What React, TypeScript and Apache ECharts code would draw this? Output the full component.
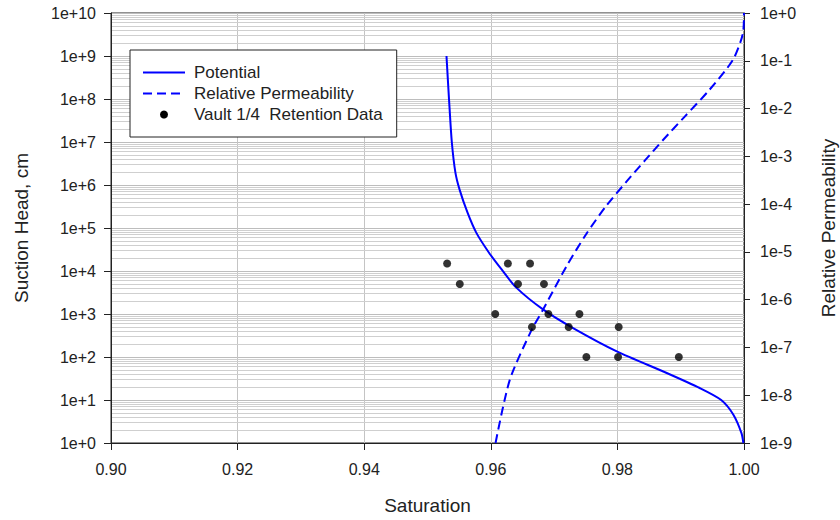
import React, { useEffect, useRef } from "react";
import * as echarts from "echarts";

// Water retention (potential) curve: saturation vs suction head (cm)
const potentialSat = [
  0.953, 0.9534, 0.95384, 0.95441, 0.95507, 0.95631, 0.9577, 0.95969, 0.96174,
  0.96403, 0.9683, 0.973, 0.9799, 0.9877, 0.993, 0.9964, 0.9983, 0.9996, 0.9999,
];
const potentialHead = [
  1e9, 9.8e7, 1e7, 1.94e6, 7.8e5, 2.3e5, 7.8e4, 2.7e4, 1.07e4, 4.1e3, 1.26e3,
  470, 135, 43, 19, 10, 4.6, 1.7, 1,
];

// Relative permeability curve: saturation vs relative permeability
const relPermSat = [
  0.96075, 0.963, 0.96643, 0.96826, 0.97196, 0.97511, 0.97816, 0.98143,
  0.98432, 0.98721, 0.99064, 0.99458, 0.99826, 0.99984, 1.0,
];
const relPermValue = [
  1e-9, 2.1e-8, 2.3e-7, 6.2e-7, 5.0e-6, 2.4e-5, 8.9e-5, 2.95e-4, 8.1e-4, 2.2e-3,
  6.8e-3, 2.5e-2, 0.105, 0.38, 1,
];

// Measured retention data (Vault 1/4)
const retentionSat = [
  0.9531, 0.9627, 0.9662, 0.9551, 0.9643, 0.9684, 0.9607, 0.9691, 0.974,
  0.9665, 0.9723, 0.9802, 0.9751, 0.9801, 0.9897,
];
const retentionHead = [
  15000, 15000, 15000, 5000, 5000, 5000, 1000, 1000, 1000, 500, 500, 500, 100,
  100, 100,
];

const xTicks = [0.9, 0.92, 0.94, 0.96, 0.98, 1.0];

const FONT = 'Arial, "Liberation Sans", sans-serif';
const TEXT = "#222";
const AXIS = "#222";

// minor log gridlines (2..9 × 10^k) for the suction head axis
const minorGrid: number[] = [];
for (let k = 0; k < 10; k++) {
  for (let m = 2; m <= 9; m++) minorGrid.push(m * Math.pow(10, k));
}

const expLabel = (v: number) => {
  const e = Math.round(Math.log10(v));
  return e >= 0 ? `1e+${e}` : `1e${e}`;
};

export default function App() {
  const ref = useRef<HTMLDivElement>(null);

  useEffect(() => {
    if (!ref.current) return;
    const chart = echarts.init(ref.current, null, { renderer: "svg" });

    chart.setOption({
      animation: false,
      backgroundColor: "#fff",
      textStyle: { fontFamily: FONT },
      grid: {
        left: 111,
        right: 96,
        top: 13,
        bottom: 77,
        outerBoundsMode: "none",
        containLabel: false,
        show: true,
        backgroundColor: "#fff",
        borderColor: AXIS,
        borderWidth: 1,
      },
      legend: {
        left: 130,
        top: 50,
        z: 20,
        orient: "vertical",
        backgroundColor: "#fff",
        borderColor: "#222",
        borderWidth: 1,
        borderRadius: 0,
        padding: [14, 14, 14, 12],
        itemWidth: 42,
        itemHeight: 8,
        itemGap: 4,
        // line entries show the bare line only
        itemStyle: { opacity: 0 },
        data: [
          { name: "Potential" },
          { name: "Relative Permeability" },
          {
            name: "Vault 1/4  Retention Data",
            itemStyle: { opacity: 1, color: "#000" },
          },
        ],
        textStyle: {
          fontFamily: FONT,
          fontSize: 17,
          lineHeight: 17,
          color: TEXT,
          padding: [0, 0, 0, 4],
        },
      },
      xAxis: {
        type: "value",
        min: xTicks[0],
        max: xTicks[xTicks.length - 1],
        interval: 0.02,
        name: "Saturation",
        nameLocation: "middle",
        nameGap: 53,
        nameTextStyle: { fontSize: 19, color: TEXT, fontFamily: FONT },
        axisLine: { show: true, lineStyle: { color: AXIS, width: 1 } },
        axisTick: { show: true, inside: false, length: 7, lineStyle: { color: AXIS } },
        axisLabel: {
          fontSize: 16,
          color: TEXT,
          margin: 18,
          formatter: (v: number) => v.toFixed(2),
        },
        splitLine: { show: true, lineStyle: { color: "#c4c4c4", width: 1 } },
      },
      yAxis: [
        {
          type: "log",
          logBase: 10,
          min: 1,
          max: 1e10,
          interval: 1,
          position: "left",
          name: "Suction Head, cm",
          nameLocation: "middle",
          nameRotate: 90,
          nameGap: 80,
          nameTextStyle: { fontSize: 19, color: TEXT, fontFamily: FONT },
          axisLine: { show: true, lineStyle: { color: AXIS, width: 1 } },
          axisTick: { show: true, inside: false, length: 7, lineStyle: { color: AXIS } },
          axisLabel: { fontSize: 16, color: TEXT, margin: 15, formatter: expLabel },
          splitLine: { show: true, lineStyle: { color: "#bdbdbd", width: 1 } },
          minorTick: { show: false },
          minorSplitLine: { show: false },
        },
        {
          type: "log",
          logBase: 10,
          min: 1e-9,
          max: 1,
          interval: 1,
          position: "right",
          name: "Relative Permeability",
          nameLocation: "middle",
          nameRotate: 90,
          nameGap: 75,
          nameTextStyle: { fontSize: 19, color: TEXT, fontFamily: FONT },
          axisLine: { show: true, lineStyle: { color: AXIS, width: 1 } },
          axisTick: { show: true, inside: false, length: 6, lineStyle: { color: AXIS } },
          axisLabel: { fontSize: 16, color: TEXT, margin: 16, formatter: expLabel },
          splitLine: { show: false },
        },
      ],
      series: [
        {
          // minor gridlines for the suction head axis
          name: "minor-grid",
          type: "line",
          yAxisIndex: 0,
          data: [],
          z: 0,
          silent: true,
          markLine: {
            z: 0,
            silent: true,
            symbol: ["none", "none"],
            label: { show: false },
            lineStyle: { color: "#cfcfcf", type: "solid", width: 1 },
            emphasis: { disabled: true },
            data: minorGrid.map((v) => ({ yAxis: v })),
          },
        },
        {
          name: "Potential",
          type: "line",
          yAxisIndex: 0,
          symbol: "none",
          smooth: 0.25,
          z: 3,
          color: "#0000ff",
          lineStyle: { color: "#0000ff", width: 2, type: "solid" },
          data: potentialSat.map((s, i) => [s, potentialHead[i]]),
        },
        {
          name: "Relative Permeability",
          type: "line",
          yAxisIndex: 1,
          symbol: "none",
          smooth: 0.25,
          z: 3,
          color: "#0000ff",
          lineStyle: { color: "#0000ff", width: 2, type: [9, 5] },
          data: relPermSat.map((s, i) => [s, relPermValue[i]]),
        },
        {
          name: "Vault 1/4  Retention Data",
          type: "scatter",
          yAxisIndex: 0,
          symbol: "circle",
          symbolSize: 8,
          z: 4,
          itemStyle: { color: "#000" },
          data: retentionSat.map((s, i) => [s, retentionHead[i]]),
        },
      ],
    });

    return () => chart.dispose();
  }, []);

  return (
    <div
      ref={ref}
      style={{
        position: "fixed",
        left: 0,
        top: 0,
        width: 840,
        height: 520,
        background: "#fff",
      }}
    />
  );
}
